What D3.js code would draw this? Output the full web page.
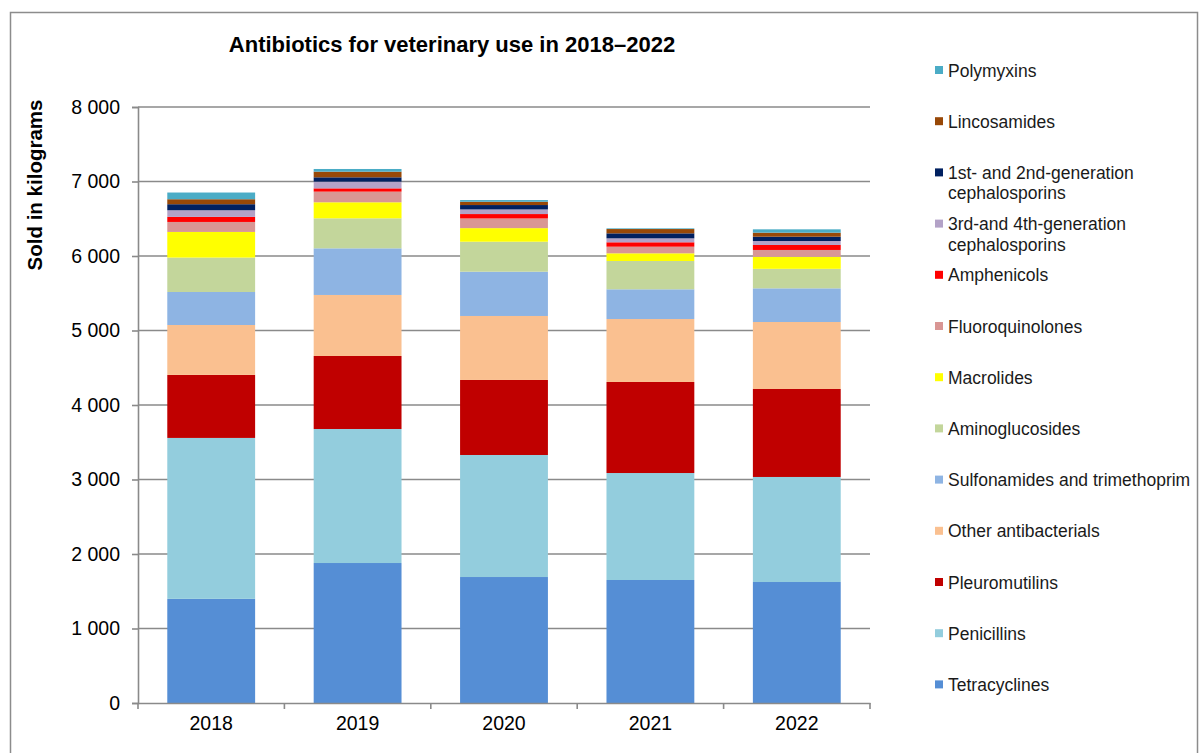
<!DOCTYPE html>
<html>
<head>
<meta charset="utf-8">
<script src="https://cdn.jsdelivr.net/npm/d3@7"></script>
<style>
  body { margin: 0; background: #fff; }
  svg { display: block; font-family: "Liberation Sans", Arial, sans-serif; }
</style>
</head>
<body>
<svg id="chart" width="1200" height="753"></svg>
<script>
const years = ["2018", "2019", "2020", "2021", "2022"];
const seriesNames = [
  "Tetracyclines", "Penicillins", "Pleuromutilins", "Other antibacterials",
  "Sulfonamides and trimethoprim", "Aminoglucosides", "Macrolides",
  "Fluoroquinolones", "Amphenicols", "3rd-and 4th-generation cephalosporins",
  "1st- and 2nd-generation cephalosporins", "Lincosamides", "Polymyxins"
];
const tetracyclines   = [1398, 1879, 1691, 1651, 1624];
const penicillins     = [2160, 1799, 1638, 1436, 1410];
const pleuromutilins  = [846, 980, 1007, 1222, 1181];
const otherAntibact   = [670, 819, 859, 845, 899];
const sulfonamides    = [443, 626, 594, 399, 452];
const aminoglucosides = [462, 403, 403, 380, 262];
const macrolides      = [344, 215, 182, 103, 162];
const fluoroquinolones= [134, 143, 130, 89, 91];
const amphenicols     = [68, 44, 59, 59, 67];
const cephalo34       = [89, 90, 62, 53, 53];
const cephalo12       = [81, 58, 59, 67, 58];
const lincosamides    = [67, 76, 44, 58, 54];
const polymyxins      = [90, 36, 23, 9, 45];
const yTicks = [0, 1000, 2000, 3000, 4000, 5000, 6000, 7000, 8000];
const colors = ["#558ED5", "#93CDDD", "#C00000", "#FAC090", "#8EB4E3", "#C3D69B",
  "#FFFF00", "#D99694", "#FF0000", "#B3A2C7", "#002060", "#984807", "#4BACC6"];

const seriesValues = [tetracyclines, penicillins, pleuromutilins, otherAntibact,
  sulfonamides, aminoglucosides, macrolides, fluoroquinolones, amphenicols,
  cephalo34, cephalo12, lincosamides, polymyxins];

const table = years.map((y, i) => {
  const row = { year: y };
  seriesNames.forEach((s, j) => row[s] = seriesValues[j][i]);
  return row;
});

const svg = d3.select("#chart");
const margin = { left: 138, right: 870, top: 107, bottom: 703 };

svg.append("rect").attr("x", 10.5).attr("y", 12.5).attr("width", 1187).attr("height", 760)
  .attr("fill", "none").attr("stroke", "#8c8c8c").attr("stroke-width", 1.5);

const x = d3.scaleBand().domain(years).range([margin.left, margin.right]).paddingInner(0.4).paddingOuter(0.2);
const y = d3.scaleLinear().domain([0, 8000]).range([margin.bottom, margin.top]);

// gridlines
svg.append("g").selectAll("line").data(yTicks.filter(d => d > 0)).join("line")
  .attr("x1", margin.left).attr("x2", margin.right)
  .attr("y1", d => y(d)).attr("y2", d => y(d))
  .attr("stroke", "#8a8a8a").attr("stroke-width", 1.6);

// bars
const stack = d3.stack().keys(seriesNames);
const stacked = stack(table);
svg.append("g").selectAll("g").data(stacked).join("g")
  .attr("fill", (d, i) => colors[i])
  .selectAll("rect").data(d => d).join("rect")
  .attr("x", d => x(d.data.year))
  .attr("width", x.bandwidth())
  .attr("y", d => y(d[1]))
  .attr("height", d => y(d[0]) - y(d[1]));

// y axis
const yAxis = svg.append("g").attr("transform", `translate(${margin.left},0)`)
  .call(d3.axisLeft(y).tickValues(yTicks).tickSize(6).tickPadding(12)
    .tickFormat(d => d3.format(",")(d).replace(/,/g, " ")));
yAxis.selectAll("path, line").attr("stroke", "#8a8a8a").attr("stroke-width", 1.6);
yAxis.selectAll("text").attr("font-size", 19.5).attr("fill", "#000")
  .attr("font-family", "Liberation Sans, Arial, sans-serif");

// x axis
const xAxis = svg.append("g").attr("transform", `translate(0,${margin.bottom})`)
  .call(d3.axisBottom(x).tickSize(0).tickPadding(13));
xAxis.select("path").attr("stroke", "#8a8a8a").attr("stroke-width", 1.6);
xAxis.selectAll("text").attr("font-size", 19.5).attr("fill", "#000")
  .attr("font-family", "Liberation Sans, Arial, sans-serif");
const boundaries = d3.range(years.length + 1).map(i => margin.left + i * (margin.right - margin.left) / years.length);
xAxis.selectAll("line.tk").data(boundaries).join("line").attr("class", "tk")
  .attr("x1", d => d).attr("x2", d => d).attr("y1", 0).attr("y2", 6)
  .attr("stroke", "#8a8a8a").attr("stroke-width", 1.6);

// title
svg.append("text").attr("x", 452).attr("y", 52).attr("text-anchor", "middle")
  .attr("font-size", 22).attr("font-weight", "bold")
  .text("Antibiotics for veterinary use in 2018–2022");

// y title
svg.append("text").attr("transform", "translate(42,185) rotate(-90)")
  .attr("text-anchor", "middle").attr("font-size", 20.5).attr("font-weight", "bold")
  .text("Sold in kilograms");

// legend
const legendItems = [
  { name: "Polymyxins", lines: ["Polymyxins"] },
  { name: "Lincosamides", lines: ["Lincosamides"] },
  { name: "1st- and 2nd-generation cephalosporins", lines: ["1st- and 2nd-generation", "cephalosporins"] },
  { name: "3rd-and 4th-generation cephalosporins", lines: ["3rd-and 4th-generation", "cephalosporins"] },
  { name: "Amphenicols", lines: ["Amphenicols"] },
  { name: "Fluoroquinolones", lines: ["Fluoroquinolones"] },
  { name: "Macrolides", lines: ["Macrolides"] },
  { name: "Aminoglucosides", lines: ["Aminoglucosides"] },
  { name: "Sulfonamides and trimethoprim", lines: ["Sulfonamides and trimethoprim"] },
  { name: "Other antibacterials", lines: ["Other antibacterials"] },
  { name: "Pleuromutilins", lines: ["Pleuromutilins"] },
  { name: "Penicillins", lines: ["Penicillins"] },
  { name: "Tetracyclines", lines: ["Tetracyclines"] }
];
const lg = svg.append("g");
legendItems.forEach((it, i) => {
  const cy = 70 + i * 51.2;
  const ci = seriesNames.indexOf(it.name);
  lg.append("rect").attr("x", 935).attr("y", cy - 4).attr("width", 8).attr("height", 8)
    .attr("fill", colors[ci]);
  const t = lg.append("text").attr("x", 948).attr("y", cy + 6.5).attr("font-size", 17.5).attr("fill", "#1a1a1a");
  it.lines.forEach((l, k) => t.append("tspan").attr("x", 948).attr("dy", k === 0 ? 0 : 20.5).text(l));
});
</script>
</body>
</html>
